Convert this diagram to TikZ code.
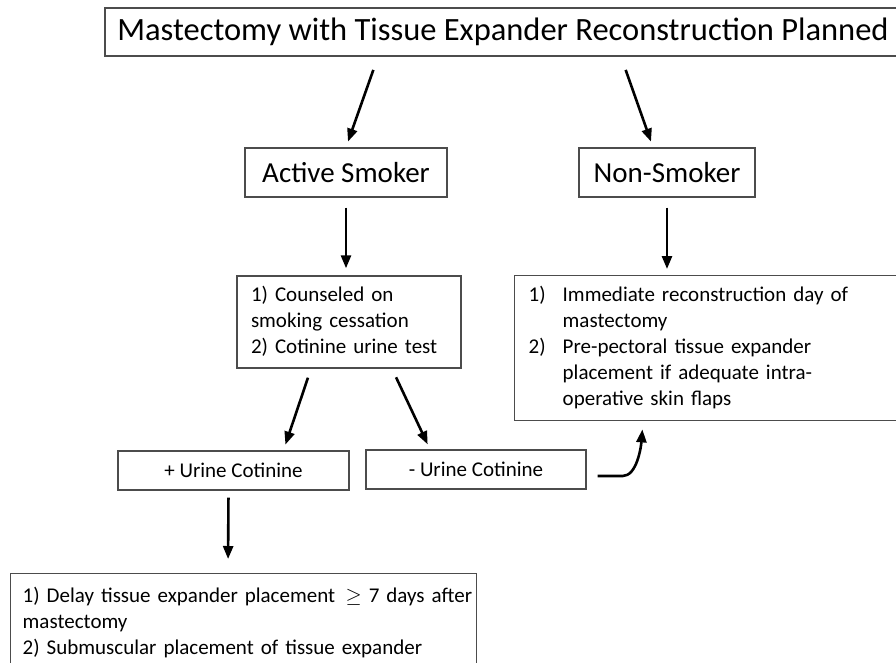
\documentclass[tikz,border=0pt]{standalone}
\usepackage{fontspec}
\setmainfont{Carlito}
\usetikzlibrary{arrows.meta,calc,positioning}

\begin{document}
\begin{tikzpicture}[x=1pt,y=-1pt,
            box/.style={draw=black!70,line width=1.4pt,inner sep=0pt},
            big/.style={font=\fontsize{32.5}{38}\selectfont},
            mid/.style={font=\fontsize{29}{34}\selectfont},
            small/.style={font=\fontsize{21}{26}\selectfont},
            flow/.style={line width=2.6pt,-{Triangle[length=13pt,width=10pt]}}]
            \useasboundingbox (0,0) rectangle (896,662);
            \clip (0,0) rectangle (896,662);
            \node[box,big,minimum width=796pt,minimum height=48pt] (top) at (503,32) {Mastectomy with Tissue Expander Reconstruction Planned};
            \node[box,mid,minimum width=202pt,minimum height=49pt] (act) at (346,172.5) {Active Smoker};
            \node[box,mid,minimum width=176pt,minimum height=49pt] (non) at (667,172.5) {Non-Smoker};
            \node[box,small,minimum height=92pt,text width=196pt,inner xsep=14pt,align=left] (cns) at (349,322)
                {\begin{tabular}{@{}l@{}}
                 1) Counseled on\\
                 smoking cessation\\
                 2) Cotinine urine test
                 \end{tabular}};
            \node[box,small,anchor=north west,minimum height=145pt,text width=382pt,inner xsep=14pt,align=left] (imm) at (514,275)
                {\begin{tabular}{@{}p{34pt}@{}l@{}}
                 1) & Immediate reconstruction day of\\
                    & mastectomy\\
                 2) & Pre-pectoral tissue expander\\
                    & placement if adequate intra-\\
                    & operative skin flaps
                 \end{tabular}};
            \node[box,small,minimum width=231pt,minimum height=39pt] (plus) at (233.5,470.5) {+ Urine Cotinine};
            \node[box,small,minimum width=220pt,minimum height=39pt] (minus) at (476,469.5) {- Urine Cotinine};
            \node[box,small,anchor=north west,text width=442pt,inner xsep=12pt,inner ysep=11pt,align=left] (dly) at (10,573)
                {\begin{tabular}{@{}l@{}}
                 1) Delay tissue expander placement \,$\geq$ 7 days after\\
                 mastectomy\\
                 2) Submuscular placement of tissue expander
                 \end{tabular}};
            \path[flow]
                ($(top.south)+(-125,0)$)
                    edge[shorten <=14pt,shorten >=6pt] (act.north)
                ($(top.south)+(118,0)$)
                    edge[shorten <=14pt,shorten >=6pt] ($(non.north)+(-14,0)$)
                (act.south)
                    edge[shorten <=10pt,shorten >=7pt] (act.south |- cns.north)
                (non.south)
                    edge[shorten <=10pt,shorten >=6pt] (non.south |- imm.north)
                ($(cns.south)+(-38,0)$)
                    edge[shorten <=9.5pt,shorten >=6pt] ($(plus.north)+(50,0)$)
                ($(cns.south)+(43,0)$)
                    edge[shorten <=9.5pt,shorten >=5.5pt] ($(minus.north)+(-46,0)$)
                ($(plus.south)+(-5,0)$)
                    edge[shorten <=7pt,shorten >=14pt] ($(dly.north west)+(218,0)$)
                ;
            \draw[flow,shorten >=8pt] ($(minus.east)+(11,6.5)$) -- ++(25,0)
                .. controls +(14,0) and +(-2,26) .. ($(imm.south west)+(129,0)$);
        \end{tikzpicture}
\end{document}
